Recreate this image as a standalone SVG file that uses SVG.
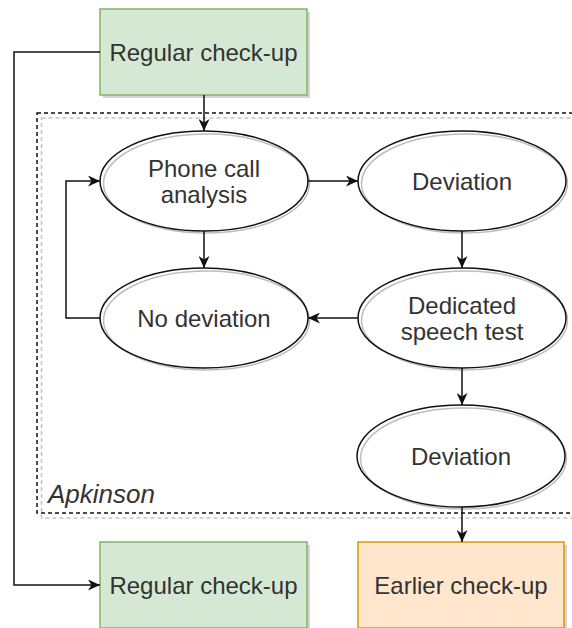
<svg xmlns="http://www.w3.org/2000/svg" width="572" height="628" viewBox="0 0 572 628">
  <style>
    .lbl { font-family: "Liberation Sans", Arial, sans-serif; font-size: 24px; fill: #333333; text-anchor: middle; }
    .it { font-family: "Liberation Sans", Arial, sans-serif; font-size: 26px; font-style: italic; fill: #333333; }
    .green { fill: #d5e8d4; stroke: #82b366; stroke-width: 1.5; }
    .orange { fill: #ffe6cc; stroke: #d79b00; stroke-width: 1.5; }
    .boxshadow { fill: #b8b8b8; opacity: 0.6; }
    .ellfill { fill: #ffffff; stroke: none; }
    .ellshadow { fill: none; stroke: #bdbdbd; stroke-width: 1.5; }
    .ell { fill: none; stroke: #111111; stroke-width: 1.5; }
    .edge { fill: none; stroke: #111111; stroke-width: 1.5; }
  </style>
  <defs>
    <marker id="arrow" markerWidth="13" markerHeight="11" refX="12" refY="5.5" orient="auto" markerUnits="userSpaceOnUse">
      <path d="M0,0 L12,5.5 L0,11 L3.5,5.5 Z" fill="#111111"/>
    </marker>
  </defs>

  <rect width="572" height="628" fill="#ffffff"/>

  <!-- Apkinson container -->
  <g id="apkinson">
    <rect x="41.5" y="118" width="560" height="400" fill="none" stroke="#c4c4c4" stroke-width="1.5" stroke-dasharray="4 3"/>
    <rect x="37" y="113" width="560" height="400" fill="none" stroke="#111111" stroke-width="1.5" stroke-dasharray="4 3"/>
    <text class="it" x="48" y="503">Apkinson</text>
  </g>

  <!-- Regular check-up (top) -->
  <g id="regular-top">
    <rect class="boxshadow" x="103" y="12" width="207" height="86"/>
    <rect class="green" x="100" y="9" width="207" height="86"/>
    <text class="lbl" x="203.5" y="60.6">Regular check-up</text>
  </g>

  <!-- Phone call analysis -->
  <g id="phone-call">
    <ellipse class="ellfill" cx="204" cy="181" rx="104" ry="50"/>
    <ellipse class="ellshadow" cx="206.5" cy="183.5" rx="103" ry="49.5"/>
    <ellipse class="ell" cx="204" cy="181" rx="104" ry="50"/>
    <text class="lbl" x="204" y="176.6">Phone call</text>
    <text class="lbl" x="204" y="202.6">analysis</text>
  </g>

  <!-- Deviation (top right) -->
  <g id="deviation-1">
    <ellipse class="ellfill" cx="462" cy="181" rx="104" ry="50"/>
    <ellipse class="ellshadow" cx="464.5" cy="183.5" rx="103" ry="49.5"/>
    <ellipse class="ell" cx="462" cy="181" rx="104" ry="50"/>
    <text class="lbl" x="462" y="189.6">Deviation</text>
  </g>

  <!-- No deviation -->
  <g id="no-deviation">
    <ellipse class="ellfill" cx="204" cy="318" rx="104" ry="50"/>
    <ellipse class="ellshadow" cx="206.5" cy="320.5" rx="103" ry="49.5"/>
    <ellipse class="ell" cx="204" cy="318" rx="104" ry="50"/>
    <text class="lbl" x="204" y="326.6">No deviation</text>
  </g>

  <!-- Dedicated speech test -->
  <g id="speech-test">
    <ellipse class="ellfill" cx="462" cy="318" rx="104" ry="50"/>
    <ellipse class="ellshadow" cx="464.5" cy="320.5" rx="103" ry="49.5"/>
    <ellipse class="ell" cx="462" cy="318" rx="104" ry="50"/>
    <text class="lbl" x="462" y="313.6">Dedicated</text>
    <text class="lbl" x="462" y="339.6">speech test</text>
  </g>

  <!-- Deviation (bottom right) -->
  <g id="deviation-2">
    <ellipse class="ellfill" cx="461" cy="456" rx="104" ry="51"/>
    <ellipse class="ellshadow" cx="463.5" cy="458.5" rx="103" ry="50.5"/>
    <ellipse class="ell" cx="461" cy="456" rx="104" ry="51"/>
    <text class="lbl" x="461" y="464.6">Deviation</text>
  </g>

  <!-- Regular check-up (bottom) -->
  <g id="regular-bottom">
    <rect class="boxshadow" x="103" y="545" width="207" height="86"/>
    <rect class="green" x="100" y="542" width="207" height="86"/>
    <text class="lbl" x="203.5" y="593.6">Regular check-up</text>
  </g>

  <!-- Earlier check-up -->
  <g id="earlier">
    <rect class="boxshadow" x="361" y="545" width="206" height="86"/>
    <rect class="orange" x="358" y="542" width="206" height="86"/>
    <text class="lbl" x="461" y="593.6">Earlier check-up</text>
  </g>

  <!-- Connectors -->
  <g id="connectors">
    <path class="edge" d="M204,95 L204,131" marker-end="url(#arrow)"/>
    <path class="edge" d="M100,52 L14,52 L14,585 L100,585" marker-end="url(#arrow)"/>
    <path class="edge" d="M308,181 L358,181" marker-end="url(#arrow)"/>
    <path class="edge" d="M204,231 L204,268" marker-end="url(#arrow)"/>
    <path class="edge" d="M462,231 L462,268" marker-end="url(#arrow)"/>
    <path class="edge" d="M358,318 L308,318" marker-end="url(#arrow)"/>
    <path class="edge" d="M100,318 L66,318 L66,181 L100,181" marker-end="url(#arrow)"/>
    <path class="edge" d="M462,368 L462,405" marker-end="url(#arrow)"/>
    <path class="edge" d="M462,507 L462,542" marker-end="url(#arrow)"/>
  </g>
</svg>
